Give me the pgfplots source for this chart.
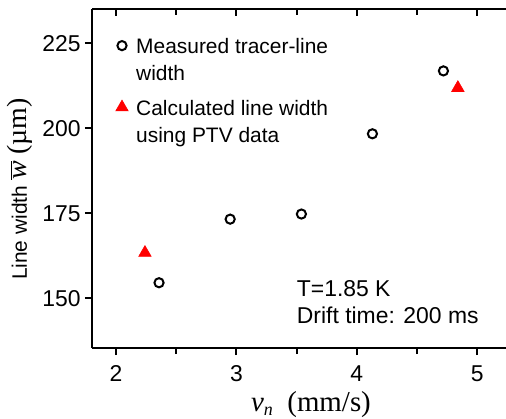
\documentclass[border=0pt]{standalone}
\usepackage{fontspec}
\setmainfont{Liberation Sans}
\newfontfamily\timesfont{Liberation Serif}
\usepackage{pgfplots}
\pgfplotsset{compat=1.18}

\pgfplotsset{
  frame/.style={
    scale only axis, width=207bp, height=169.5bp,
    xmin=1.8, xmax=5.24, ymin=135.4, ymax=235.1,
    axis line style={-, line width=1bp},
    every tick/.style={black, line width=1bp},
    major tick length=3.5bp, minor tick length=3bp,
    xtick={2,3,4,5}, minor xtick={2.5,3.5,4.5},
    ytick={150,175,200,225},
  }
}

\begin{document}
\begin{tikzpicture}
\begin{axis}[frame,
  axis x line*=bottom, axis y line*=left,
  tick align=outside,
  /pgf/number format/assume math mode=true,
  ticklabel style={font=\fontsize{11.5}{13}\selectfont},
  xticklabel style={inner sep=0pt, anchor=north, yshift=-5bp},
  yticklabel style={inner sep=0pt, anchor=east, xshift=-2bp},
  xlabel={\fontsize{14.5}{16}\timesfont\itshape v\raisebox{-0.35ex}{\fontsize{9}{10}\selectfont n}\upshape\ \ (mm/s)},
  xlabel style={at={([yshift=-31.5bp]rel axis cs:0.529,0)}, anchor=base, inner sep=0pt},
  ylabel={\fontsize{10.5}{12}\selectfont Line width {\fontsize{14}{16}\timesfont $\overline{\mbox{\itshape w}}$ (µm)}},
  ylabel style={at={([xshift=-32.5bp]rel axis cs:0,0.469)}, anchor=base, inner sep=0pt},
  legend image code/.code={\draw[#1] plot coordinates {(0bp,3.9bp)};},
  legend style={draw=none, fill=none, at={(rel axis cs:0.042,0.943)}, anchor=north west,
    font=\fontsize{10.5}{12}\selectfont, cells={anchor=base west}, row sep=17bp,
    /tikz/every odd column/.style={column sep=2bp}},
]
\addplot[only marks, mark=o, mark size=2.3bp, line width=1bp, black]
  coordinates {(2.357,154.6) (2.948,173.3) (3.54,174.8) (4.13,198.4) (4.72,216.9)};
\addlegendentry{\begin{tabular}[t]{@{}l@{}}Measured tracer-line\\[1.5bp]width\end{tabular}}
\addplot[only marks, mark=triangle*, mark size=3.6bp, red, mark options={fill=red, draw=red, line width=0.3bp}]
  coordinates {(2.24,163.4) (4.84,211.9)};
\addlegendentry{\begin{tabular}[t]{@{}l@{}}Calculated line width\\[1.5bp]using PTV data\end{tabular}}
\node[anchor=base west, inner sep=0pt, font=\fontsize{11.5}{13}\selectfont] at (rel axis cs:0.494,0.153) {T=1.85 K};
\node[anchor=base west, inner sep=0pt, font=\fontsize{11.5}{13}\selectfont] at (rel axis cs:0.494,0.073) {Drift time: 200 ms};
\coordinate (bl) at (rel axis cs:0,0);
\coordinate (tr) at (rel axis cs:1,1);
\end{axis}
\begin{axis}[frame,
  axis x line*=top, hide y axis,
  tick align=inside, xticklabels={},
]
\end{axis}
\pgfresetboundingbox
\path ([shift={(-46bp,-35bp)}]bl) rectangle ([yshift=4.5bp]tr);
\end{tikzpicture}
\end{document}
